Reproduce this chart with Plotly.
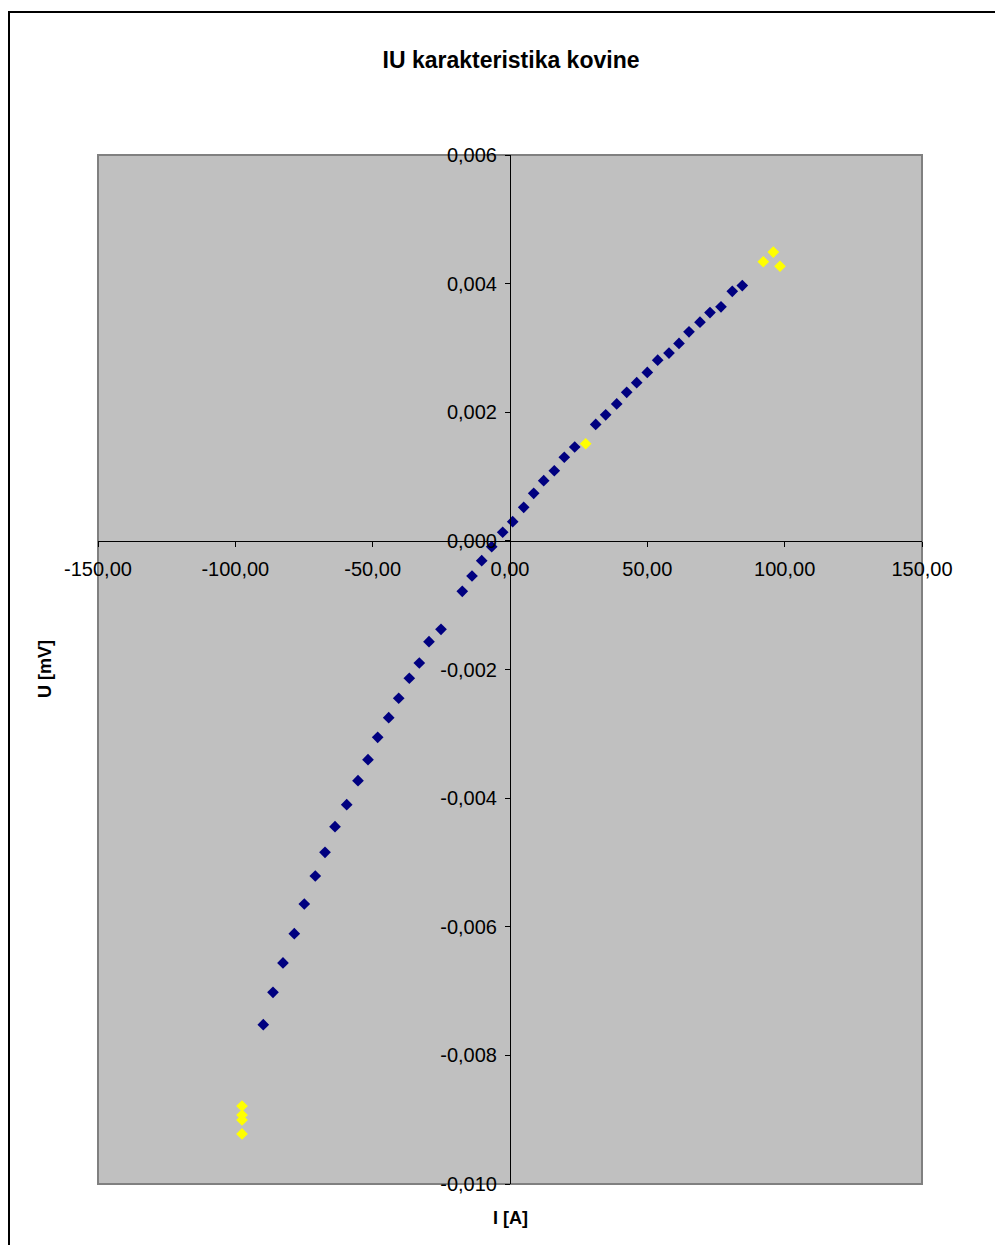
import plotly.graph_objects as go

# Main measurement series (navy)
I_main = [-89.82, -86.29, -82.65, -78.53, -74.89, -70.89, -67.35, -63.71, -59.45, -55.34,
          -51.70, -48.17, -44.16, -40.52, -36.66, -33.02, -29.49, -25.12, -17.37, -13.83,
          -10.30, -6.66, -2.66, 0.98, 4.99, 8.63, 12.27, 16.13, 19.77, 23.56,
          31.20, 34.84, 38.85, 42.49, 46.13, 49.99, 53.77, 57.89, 61.53, 65.17,
          69.17, 72.81, 76.82, 80.93, 84.57]
U_main = [-0.007523, -0.007019, -0.006563, -0.006108, -0.005646, -0.005211, -0.004842, -0.004444,
          -0.004102, -0.003729, -0.003402, -0.003054, -0.002749, -0.002447, -0.002136, -0.001899,
          -0.001567, -0.001375, -0.000784, -0.000546, -0.000308, -0.000090, 0.000134, 0.000299,
          0.000522, 0.000740, 0.000936, 0.001090, 0.001300, 0.001460, 0.001810, 0.001960,
          0.002130, 0.002310, 0.002460, 0.002620, 0.002810, 0.002920, 0.003070, 0.003250,
          0.003400, 0.003550, 0.003640, 0.003880, 0.003970]

# Highlighted points (yellow)
I_hl = [27.56, 92.22, 95.86, 98.30, -97.57, -97.57, -97.57, -97.57]
U_hl = [0.00151, 0.00434, 0.00449, 0.00427, -0.008787, -0.008927, -0.009005, -0.009222]

x_ticks = [-150, -100, -50, 0, 50, 100, 150]
y_ticks = [-0.010, -0.008, -0.006, -0.004, -0.002, 0.0, 0.002, 0.004, 0.006]

title_text = "IU karakteristika kovine"
x_title = "I [A]"
y_title = "U [mV]"

FONT = "Arial, 'Liberation Sans', sans-serif"


def fmt(v, d):
    s = f"{abs(v):.{d}f}".replace(".", ",")
    return ("-" + s) if v < 0 else s


x_ticktext = [fmt(v, 2) for v in x_ticks]
y_ticktext = [fmt(v, 3) for v in y_ticks]

fig = go.Figure()
fig.add_trace(go.Scatter(x=I_main, y=U_main, mode="markers",
                         marker=dict(symbol="diamond", size=9, color="#000080",
                                     line=dict(width=0)),
                         showlegend=False))
fig.add_trace(go.Scatter(x=I_hl, y=U_hl, mode="markers",
                         marker=dict(symbol="diamond", size=9, color="#FFFF00",
                                     line=dict(width=0)),
                         showlegend=False))

xr = [-150, 150]
yr = [-0.010, 0.006]
ypos = (0 - yr[0]) / (yr[1] - yr[0])
xpos = (0 - xr[0]) / (xr[1] - xr[0])

W, H = 995, 1237  # page body has 8px margin
OFF = 8
pl, pr, pt, pb = 98, 922, 155, 1184  # plot area in page pixels
pw, ph = pr - pl, pb - pt


def px(xpage):
    return (xpage - pl) / pw


def py(ypage):
    return (pb - ypage) / ph


fig.update_layout(
    width=W, height=H,
    margin=dict(l=pl - OFF, r=W - (pr - OFF), t=pt - OFF, b=H - (pb - OFF)),
    paper_bgcolor="white",
    plot_bgcolor="#C0C0C0",
    font=dict(family=FONT, color="black", size=20),
    title=dict(text="<b>" + title_text + "</b>", x=(511 - OFF) / W, xanchor="center",
               y=1 - (60 - OFF) / H, yanchor="middle", font=dict(size=23, family=FONT)),
    xaxis=dict(range=xr, tickvals=x_ticks, ticktext=x_ticktext, showgrid=False,
               zeroline=False, showline=True, linecolor="black", linewidth=1,
               ticks="outside", ticklen=5, tickcolor="black", tickwidth=1,
               ticklabelstandoff=5,
               anchor="free", position=ypos, tickfont=dict(size=20)),
    yaxis=dict(range=yr, tickvals=y_ticks, ticktext=y_ticktext, showgrid=False,
               zeroline=False, showline=True, linecolor="black", linewidth=1,
               ticks="outside", ticklen=5, tickcolor="black", tickwidth=1,
               ticklabelstandoff=4,
               anchor="free", position=xpos, tickfont=dict(size=20)),
    annotations=[
        dict(text="<b>" + x_title + "</b>", xref="paper", yref="paper",
             x=px(510), y=py(1218), xanchor="center", yanchor="middle",
             showarrow=False, font=dict(size=18)),
        dict(text="<b>" + y_title + "</b>", xref="paper", yref="paper",
             x=px(45), y=py(669), xanchor="center", yanchor="middle",
             textangle=-90, showarrow=False, font=dict(size=18)),
    ],
    shapes=[
        dict(type="rect", xref="paper", yref="paper", x0=0, y0=0, x1=1, y1=1,
             line=dict(color="#808080", width=2), layer="below"),
        dict(type="rect", xref="paper", yref="paper",
             x0=px(9), y0=py(1270), x1=px(1030), y1=py(12),
             line=dict(color="black", width=2)),
    ],
)

fig.write_html("out.html")
